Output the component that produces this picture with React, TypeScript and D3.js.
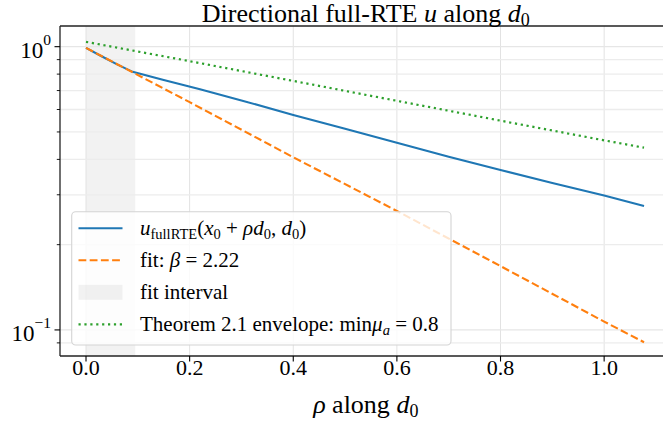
import { useMemo } from "react"
import * as d3 from "d3"

// values
const rhoFull = [0, 0.03, 0.06, 0.09, 0.15, 0.22, 0.3, 0.4, 0.5, 0.6, 0.7, 0.8, 0.9, 1.0, 1.077]
const uFull = [0.99, 0.925, 0.866, 0.815, 0.762, 0.707, 0.646, 0.574, 0.513, 0.458, 0.409, 0.367, 0.33, 0.298, 0.274]

const rhoSample = [0, 0.2, 0.4, 0.6, 0.8, 1.0, 1.077]
const fitVals = [0.99, 0.637, 0.407, 0.263, 0.168, 0.107, 0.0905]
const envVals = [1.04, 0.889, 0.757, 0.644, 0.548, 0.467, 0.44]

const fitInterval = [0, 0.095]

const xTicks = [0, 0.2, 0.4, 0.6, 0.8, 1.0]
const yMajor = [1, 0.1]
const yMajorExp = ["0", "\u22121"]
const yMinor = [0.09, 0.2, 0.3, 0.4, 0.5, 0.6, 0.7, 0.8, 0.9]

const W = 663
const H = 427
const FONT = "'Liberation Serif', 'Times New Roman', 'DejaVu Serif', serif"

const BLUE = "#1f77b4"
const ORANGE = "#ff7f0e"
const GREEN = "#2ca02c"

export default function App() {
  const left = 60, right = 671.5, top = 26, bottom = 356

  const x = useMemo(() => d3.scaleLinear().domain([-0.0502, 1.13]).range([left, right]), [])
  const y = useMemo(() => d3.scaleLog().domain([0.0809, 1.183]).range([bottom, top]), [])

  const line = d3.line<[number, number]>().x(d => x(d[0])).y(d => y(d[1]))

  const fullPath = line(rhoFull.map((r, i) => [r, uFull[i]]))
  const fitPath = line(rhoSample.map((r, i) => [r, fitVals[i]]))
  const envPath = line(rhoSample.map((r, i) => [r, envVals[i]]))

  // legend
  const lx = 71.7, ly = 211.7, lw = 379.3, lh = 133.3
  const rows = [228.3, 260.3, 292.3, 324.3]
  const hx0 = 78.5, hx1 = 122.5, tx = 140

  return (
    <svg width={W} height={H} style={{ position: "absolute", left: 0, top: 0, background: "#fff" }}
      fontFamily={FONT}>
      <defs>
        <clipPath id="plotclip">
          <rect x={left} y={top} width={right - left} height={bottom - top} />
        </clipPath>
      </defs>
      <rect x={0} y={0} width={W} height={H} fill="#fff" />

      {/* fit interval */}
      <rect x={x(fitInterval[0])} y={top} width={x(fitInterval[1]) - x(fitInterval[0])}
        height={bottom - top} fill="#000" fillOpacity={0.05} />

      {/* grid */}
      <g fill="none">
        {xTicks.map(t => <line key={"gx" + t} x1={x(t)} x2={x(t)} y1={top} y2={bottom} stroke="#e2e2e2" strokeWidth={1} />)}
        {yMajor.map(t => <line key={"gy" + t} x1={left} x2={right} y1={y(t)} y2={y(t)} stroke="#e6e6e6" strokeWidth={1.3} />)}
        {yMinor.map(t => <line key={"gm" + t} x1={left} x2={right} y1={y(t)} y2={y(t)} stroke="#ececec" strokeWidth={1.3} />)}
      </g>

      {/* series */}
      <g clipPath="url(#plotclip)" fill="none" strokeLinecap="butt">
        <path d={fullPath ?? ""} stroke={BLUE} strokeWidth={2.1} />
        <path d={fitPath ?? ""} stroke={ORANGE} strokeWidth={2.1} strokeDasharray="7.8,3.4" />
        <path d={envPath ?? ""} stroke={GREEN} strokeWidth={2.2} strokeDasharray="2.2,3.7" />
      </g>

      {/* spines */}
      <g stroke="#222" strokeWidth={1.3} fill="none">
        <line x1={left} x2={left} y1={top} y2={bottom} />
        <line x1={left} x2={W} y1={bottom} y2={bottom} />
        <line x1={left} x2={W} y1={top} y2={top} />
      </g>

      {/* x ticks */}
      <g fontSize={22} textAnchor="middle" fill="#000">
        {xTicks.map(t => (
          <g key={"xt" + t}>
            <line x1={x(t)} x2={x(t)} y1={bottom} y2={bottom + 5.5} stroke="#000" strokeWidth={1.1} />
            <text x={x(t)} y={374.5}>{d3.format(".1f")(t)}</text>
          </g>
        ))}
      </g>

      {/* y ticks */}
      <g fill="#000">
        {yMajor.map((t, i) => (
          <g key={"yt" + t}>
            <line x1={left - 5.5} x2={left} y1={y(t)} y2={y(t)} stroke="#000" strokeWidth={1.1} />
            <text x={51} y={y(t) + 11} fontSize={23} textAnchor="end">
              10<tspan fontSize={15.5} dy={-12.5}>{yMajorExp[i]}</tspan>
            </text>
          </g>
        ))}
        {yMinor.map(t => (
          <line key={"ym" + t} x1={left - 3.2} x2={left} y1={y(t)} y2={y(t)} stroke="#000" strokeWidth={0.9} />
        ))}
      </g>

      {/* title */}
      <text x={(left + right) / 2} y={22} textAnchor="middle" fontSize={26}>
        Directional full-RTE <tspan fontStyle="italic">u</tspan> along <tspan fontStyle="italic">d</tspan>
        <tspan fontSize={18} dy={4}>0</tspan>
      </text>

      {/* x label */}
      <text x={(left + right) / 2} y={413} textAnchor="middle" fontSize={26}>
        <tspan fontStyle="italic">ρ</tspan> along <tspan fontStyle="italic">d</tspan>
        <tspan fontSize={18} dy={4}>0</tspan>
      </text>

      {/* legend */}
      <g>
        <rect x={lx} y={ly} width={lw} height={lh} rx={4} fill="#fff" fillOpacity={0.8}
          stroke="#d4d4d4" strokeWidth={1.1} />
        <line x1={hx0} x2={hx1} y1={rows[0]} y2={rows[0]} stroke={BLUE} strokeWidth={2.1} />
        <line x1={hx0} x2={hx1} y1={rows[1]} y2={rows[1]} stroke={ORANGE} strokeWidth={2.1} strokeDasharray="7.8,3.4" />
        <rect x={hx0} y={rows[2] - 7.5} width={hx1 - hx0} height={15} fill="#000" fillOpacity={0.05} />
        <line x1={hx0} x2={hx1} y1={rows[3]} y2={rows[3]} stroke={GREEN} strokeWidth={2.2} strokeDasharray="2.2,3.7" />

        <g fontSize={21} fill="#000">
          <text x={tx} y={rows[0] + 7}>
            <tspan fontStyle="italic">u</tspan>
            <tspan fontSize={14.5} dy={4}>fullRTE</tspan>
            <tspan dy={-4}>(</tspan><tspan fontStyle="italic">x</tspan>
            <tspan fontSize={14.5} dy={4}>0</tspan>
            <tspan dy={-4}> + </tspan><tspan fontStyle="italic">ρd</tspan>
            <tspan fontSize={14.5} dy={4}>0</tspan>
            <tspan dy={-4}>, </tspan><tspan fontStyle="italic">d</tspan>
            <tspan fontSize={14.5} dy={4}>0</tspan>
            <tspan dy={-4}>)</tspan>
          </text>
          <text x={tx} y={rows[1] + 7}>
            fit: <tspan fontStyle="italic">β</tspan> = 2.22
          </text>
          <text x={tx} y={rows[2] + 7}>fit interval</text>
          <text x={tx} y={rows[3] + 7}>
            Theorem 2.1 envelope: min<tspan fontStyle="italic">μ</tspan>
            <tspan fontSize={14.5} fontStyle="italic" dy={4}>a</tspan>
            <tspan dy={-4}> = 0.8</tspan>
          </text>
        </g>
      </g>
    </svg>
  )
}
